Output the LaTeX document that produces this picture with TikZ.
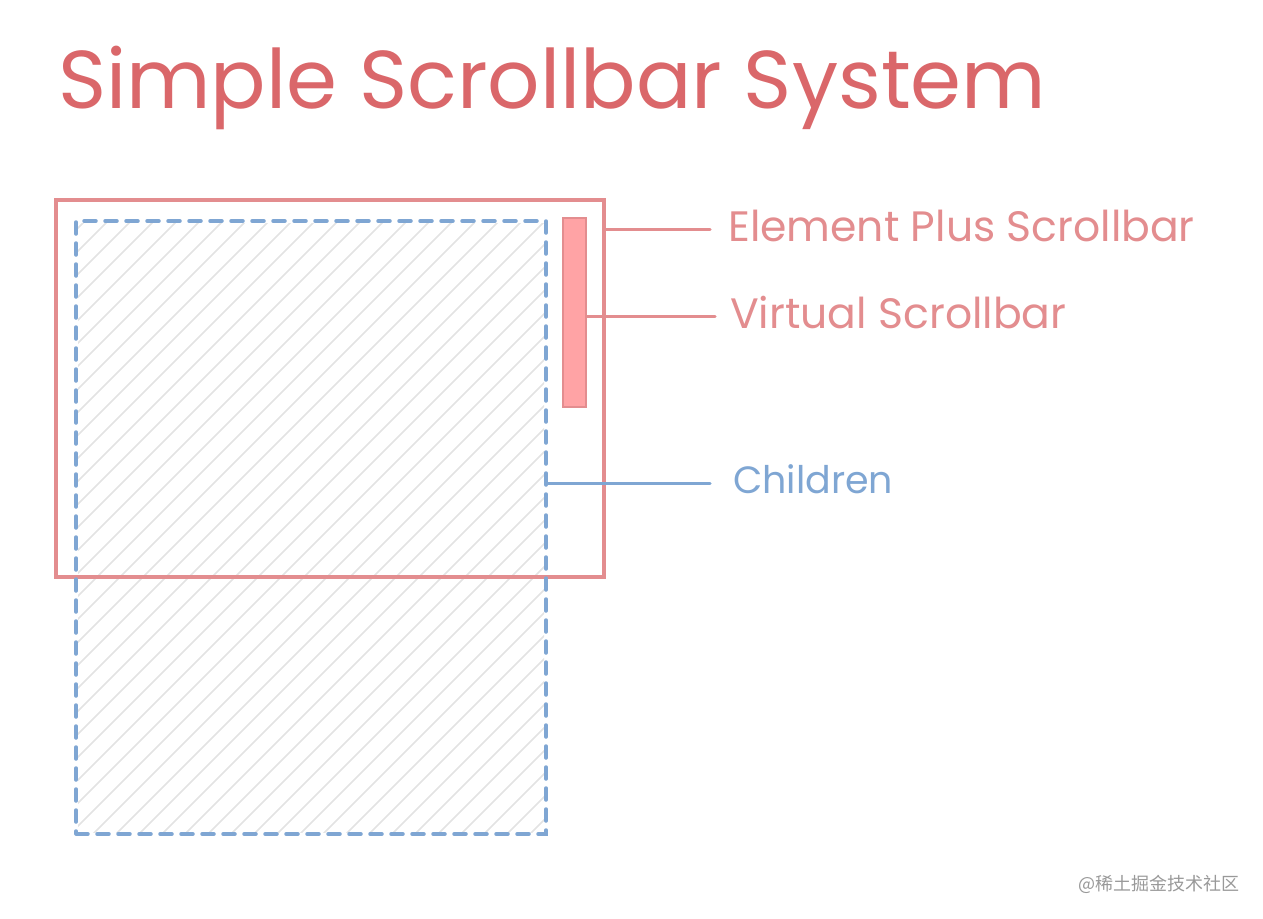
\documentclass[tikz,border=0pt]{standalone}
\usepackage{fontspec}
\setmainfont{Poppins}
\newfontfamily\cjkfont{Noto Sans CJK SC}
\usetikzlibrary{positioning}

\definecolor{titlered}{HTML}{DA676A}
\definecolor{framered}{HTML}{E38D8F}
\definecolor{barfill}{HTML}{FFA3A5}
\definecolor{kidblue}{HTML}{7FA6D3}
\definecolor{hatchgray}{HTML}{E3E3E3}

\tikzset{
  redbox/.style={draw=framered, line width=4pt, inner sep=0pt},
  kidbox/.style={draw=kidblue, line width=3.5pt, inner sep=0pt, dash pattern=on 12pt off 9pt, line cap=round},
  note/.style={anchor=base west, inner sep=0pt, font=\fontsize{42.5}{50}\selectfont},
  link/.style={line width=3pt, line cap=round}
}

\begin{document}
\begin{tikzpicture}[x=1pt,y=-1pt]
\useasboundingbox (0,0) rectangle (1263,918);

\node [anchor=base west, inner sep=0pt, text=titlered, font=\fontsize{82}{98}\selectfont] (title) at (58,108) {Simple Scrollbar System};

% hatch behind the children
\begin{scope}
\clip (78,223) rectangle (544,832);
\foreach \x in {-620,-597,...,560}
    \draw [hatchgray, line width=1.6pt] (\x,834) -- (\x+613,221);
\end{scope}

\node [redbox, minimum width=548pt, minimum height=377pt] (frame) at (330,388.5) {};
\node [kidbox, minimum width=470pt, minimum height=613pt] (kids) at (311,527.5) {};
\node [draw=framered, fill=barfill, line width=1.5pt, inner sep=0pt, minimum width=23pt, minimum height=189pt] (bar) at (574.5,312.5) {};

\node [note, text=framered] (elabel) at (728,241) {Element Plus Scrollbar};
\node [note, text=framered] (vlabel) at (730,328) {Virtual Scrollbar};
\node [note, text=kidblue, font=\fontsize{38}{46}\selectfont] (clabel) at (733,493) {Children};

\coordinate (eend) at (710,229);
\coordinate (vend) at (715,316);
\coordinate (cend) at (710,483);
\draw [link, framered] (frame.east |- eend) -- (eend);
\draw [link, framered] (bar.east |- vend) -- (vend);
\draw [link, kidblue] (kids.east |- cend) -- (cend);

\node [anchor=east, inner sep=0pt, text=black!40, font=\cjkfont\fontsize{18}{20}\selectfont] (mark) at (1240,884) {@稀土掘金技术社区};

\end{tikzpicture}
\end{document}
